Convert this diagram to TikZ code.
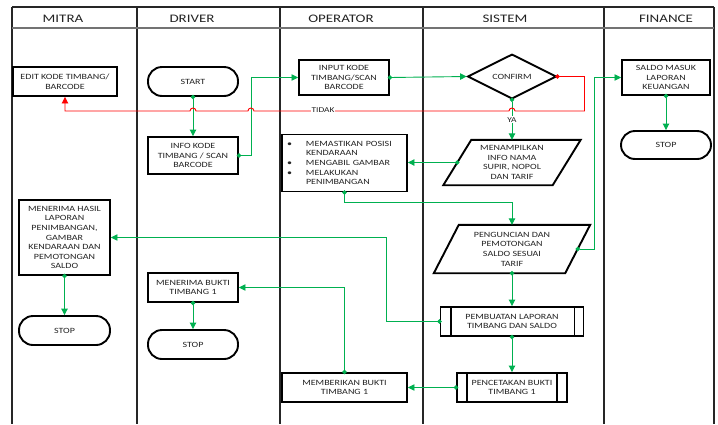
\documentclass[tikz,border=0pt]{standalone}
\usepackage{fontspec}
\setmainfont{Carlito}
\newfontfamily\boxfont[FakeStretch=1.25]{Carlito}
\newfontfamily\headfont[FakeStretch=1.3]{Carlito}
\usetikzlibrary{arrows.meta,shapes.geometric,calc}
\definecolor{flowgreen}{RGB}{0,176,80}
\definecolor{ink}{RGB}{35,35,35}
\newcommand\bitem{\makebox[20pt][l]{\hspace{1pt}•}}
\newcommand\bcont{\hspace*{20pt}}

\begin{document}
\begin{tikzpicture}[x=1pt,y=-1pt,
  lane/.style={draw=black!85,line width=1.2pt},
  headline/.style={draw=black!55,line width=1.4pt},
  head/.style={font=\headfont\fontsize{11.5}{13}\selectfont,text=ink,inner sep=0pt},
  boxtext/.style={font=\boxfont\fontsize{8}{9.6}\selectfont,text=ink,align=center},
  dims/.style 2 args={minimum width=#1pt,minimum height=#2pt},
  box/.style={boxtext,draw=black,line width=1.9pt,fill=white,inner sep=1pt},
  term/.style={box,rounded corners=14pt},
  decision/.style={box,diamond,inner sep=0pt},
  io/.style={boxtext,inner sep=0pt},
  ioline/.style={draw=black,line width=1.9pt},
  flow/.style={draw=flowgreen,line width=0.9pt,
    {Circle[length=4.4pt]}-{Triangle[length=6.5pt,width=6.5pt]},shorten <=-2.2pt},
  thinflow/.style={flow,line width=0.7pt},
  noflow/.style={draw=red,line width=0.9pt,
    {Circle[length=4.4pt]}-{Triangle[length=6.5pt,width=6.5pt]},shorten <=-2.2pt},
  lbl/.style={fill=white,inner sep=1pt,font=\boxfont\fontsize{7.5}{9}\selectfont,text=ink}]

\useasboundingbox (0,0) rectangle (718,424);

% swimlane frame
\draw[lane] (12,7) -- (714,7);
\foreach \lx in {12,137,280,423,604,714}
  \draw[lane] (\lx,7) -- (\lx,424);
\draw[headline] (12,28) -- (714,28);

\node[head] (hMitra)    at (63,18.5)  {MITRA};
\node[head] (hDriver)   at (192,18.5) {DRIVER};
\node[head] (hOperator) at (341,18.5) {OPERATOR};
\node[head] (hSistem)   at (505,18.5) {SISTEM};
\node[head] (hFinance)  at (666,18.5) {FINANCE};

% MITRA
\node[box,dims={104}{29}] (edit) at (65,81.5) {EDIT KODE TIMBANG/\\BARCODE};
\node[box,dims={91}{75}] (hasil) at (64.5,237.5)
  {MENERIMA HASIL\\LAPORAN\\PENIMBANGAN,\\GAMBAR\\KENDARAAN DAN\\PEMOTONGAN\\SALDO};
\node[term,dims={91}{29}] (stopM) at (64.5,330.5) {STOP};

% DRIVER
\node[term,dims={90}{29}] (start) at (193,81.5) {START};
\node[box,dims={90}{37}] (info) at (193,155.5) {INFO KODE\\TIMBANG / SCAN\\BARCODE};
\node[box,dims={90}{29}] (bukti) at (193,287.5) {MENERIMA BUKTI\\TIMBANG 1};
\node[term,dims={90}{29}] (stopD) at (193,344.5) {STOP};

% OPERATOR
\node[box,dims={90}{35}] (input) at (344,77.5) {INPUT KODE\\TIMBANG/SCAN\\BARCODE};
\node[box,dims={125}{57},align=left,text width=117pt,inner xsep=4pt] (check) at (344.5,163)
  {\bitem MEMASTIKAN POSISI\\\bcont KENDARAAN\\\bitem MENGABIL GAMBAR\\\bitem MELAKUKAN\\\bcont PENIMBANGAN};
\node[box,dims={125}{29}] (give) at (344.5,387.5) {MEMBERIKAN BUKTI\\TIMBANG 1};

% SISTEM
\node[decision,dims={89}{43}] (confirm) at (512,76.5) {CONFIRM};
\node[io,dims={137}{45}] (show) at (512,162.5) {MENAMPILKAN\\INFO NAMA\\SUPIR, NOPOL\\DAN TARIF};
\draw[ioline] ($(show.north west)+(28,0)$) -- (show.north east)
  -- ($(show.south east)-(28,0)$) -- (show.south west) -- cycle;
\coordinate (showL) at ($(show.west)+(14,0)$);
\node[io,dims={156}{48}] (lock) at (512,249) {PENGUNCIAN DAN\\PEMOTONGAN\\SALDO SESUAI\\TARIF};
\draw[ioline] ($(lock.north west)+(25,0)$) -- (lock.north east)
  -- ($(lock.south east)-(25,0)$) -- (lock.south west) -- cycle;
\coordinate (lockR) at ($(lock.east)-(12.5,0)$);
\node[box,dims={143}{29}] (report) at (512,321.5) {PEMBUATAN LAPORAN\\TIMBANG DAN SALDO};
\draw[ioline] ([xshift=11pt]report.north west) -- ([xshift=11pt]report.south west);
\draw[ioline] ([xshift=-10pt]report.north east) -- ([xshift=-10pt]report.south east);
\node[box,dims={110}{29}] (print) at (512,387.5) {PENCETAKAN BUKTI\\TIMBANG 1};
\draw[ioline] ([xshift=11pt]print.north west) -- ([xshift=11pt]print.south west);
\draw[ioline] ([xshift=-11pt]print.north east) -- ([xshift=-11pt]print.south east);

% FINANCE
\node[box,dims={88}{35}] (saldo) at (666,77.5) {SALDO MASUK\\LAPORAN\\KEUANGAN};
\node[term,dims={90}{28}] (stopF) at (666,145) {STOP};

% green flow connectors
\draw[flow] (start.south) -- (info.north);
\draw[thinflow] (info.east) -- ++(12,0) coordinate (ibend) |- (input.west);
\draw[flow] (input.east) -- (confirm.west);
\draw[flow] (confirm.south) -- (show.north);
\draw[flow] (showL) -- (check.east |- showL);
\draw[flow] (check.south) -- ++(0,10) -| (lock.north);
\draw[thinflow] (lockR) -- ++(17,0) |- (saldo.west);
\draw[flow] (saldo.south) -- (stopF.north);
\draw[flow] (lock.south) -- (report.north);
\draw[thinflow] (report.west) -- ++(-53,0) |- (hasil.east);
\draw[flow] (hasil.south) -- (stopM.north);
\draw[flow] (report.south) -- (print.north);
\draw[thinflow] (print.west) -- (give.east);
\draw[thinflow] (give.north) |- (bukti.east);
\draw[flow] (bukti.south) -- (stopD.north);

% rejected branch back to MITRA, hopping over the green lines
\draw[noflow] (confirm.east) -- ++(27,0) -- ++(0,34.5) coordinate (rb)
  -- ($(confirm.south |- rb)+(3,0)$) arc[start angle=0,end angle=180,radius=3pt]
  -- ($(ibend |- rb)+(3,0)$) arc[start angle=0,end angle=180,radius=3pt]
  -- ($(start.south |- rb)+(3,0)$) arc[start angle=0,end angle=180,radius=3pt]
  -- (edit.south |- rb) -- (edit.south);

\node[lbl] (tidak) at (323,110.5) {TIDAK};
\node[lbl] (ya) at ($(confirm.south)!0.5!(show.north)$) {YA};
\end{tikzpicture}
\end{document}
